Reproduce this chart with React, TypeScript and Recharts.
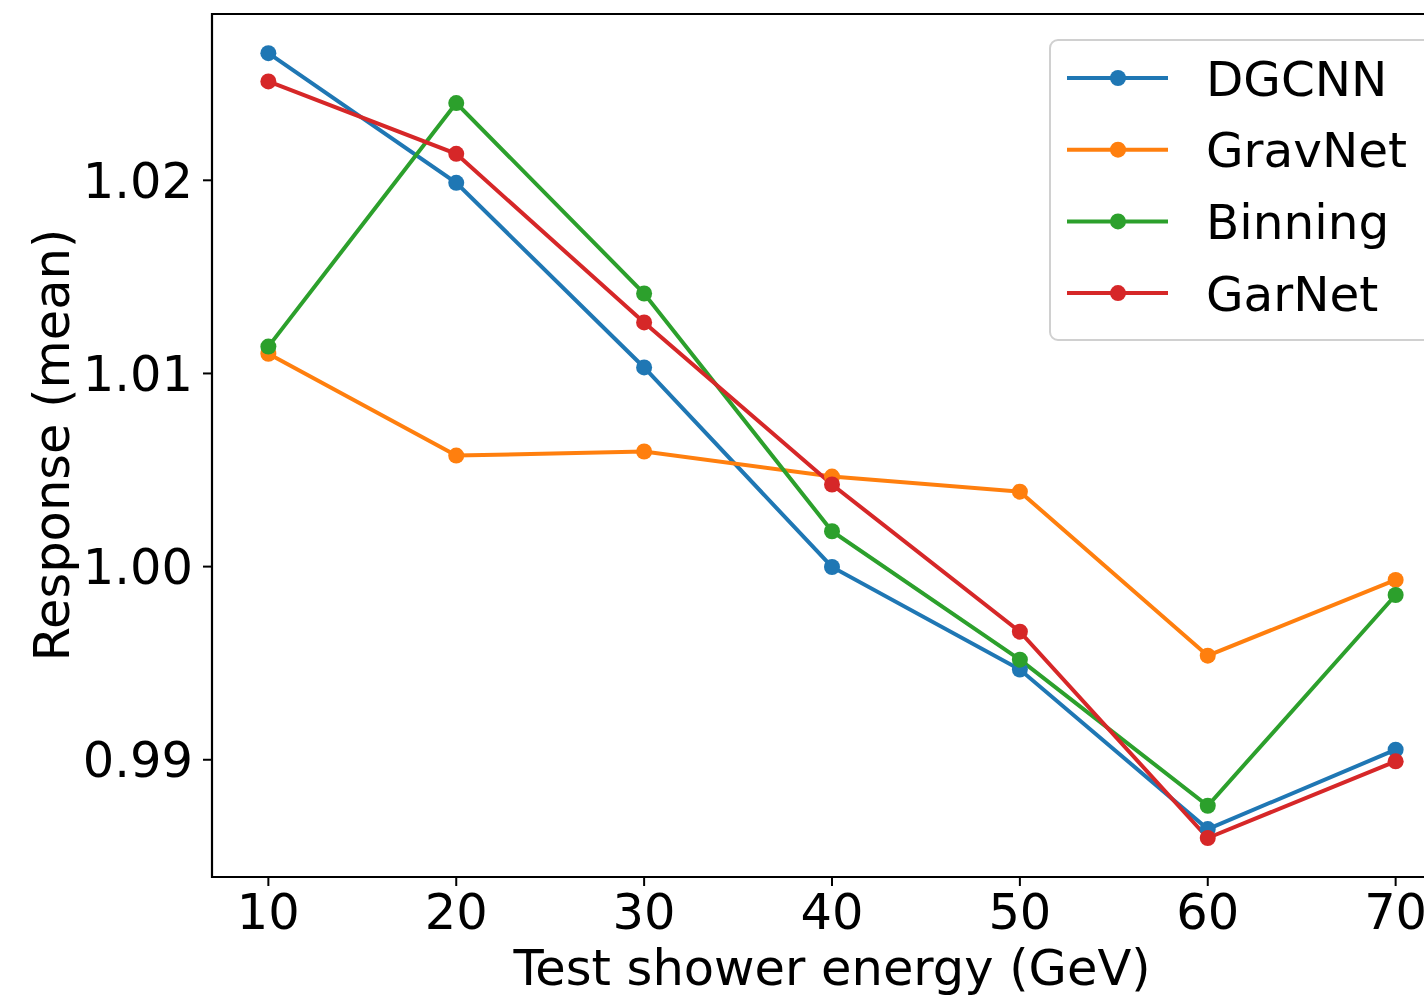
import React from 'react';
import { LineChart, XAxis, YAxis, Line, Legend, ReferenceArea } from 'recharts';

const energies = [10, 20, 30, 40, 50, 60, 70];
const dgcnn = [1.02658, 1.01987, 1.01031, 0.99998, 0.99467, 0.98641, 0.99052];
const gravnet = [1.01102, 1.00575, 1.00596, 1.00466, 1.00388, 0.99539, 0.99931];
const binning = [1.01139, 1.024, 1.01414, 1.00183, 0.99518, 0.98762, 0.99853];
const garnet = [1.02512, 1.02137, 1.01264, 1.00425, 0.99663, 0.98595, 0.98992];
const xTicks = [10, 20, 30, 40, 50, 60, 70];
const yTicks = [0.99, 1.0, 1.01, 1.02];

const FONT = '"DejaVu Sans", sans-serif';
const FS = 49.5;

const series = [
    { key: 'DGCNN', values: dgcnn, color: '#1f77b4' },
    { key: 'GravNet', values: gravnet, color: '#ff7f0e' },
    { key: 'Binning', values: binning, color: '#2ca02c' },
    { key: 'GarNet', values: garnet, color: '#d62728' },
];

const data = energies.map((e, i) => {
    const row: Record<string, number> = { x: e };
    series.forEach((s) => { row[s.key] = s.values[i]; });
    return row;
});

// keep the plotting order (recharts sorts legend items by name)
const LegendBox = () => (
    <svg width={389} height={302} style={{ display: 'block' }}>
        <rect x={1} y={1} width={400} height={300} rx={8} ry={8} fill="#fff" fillOpacity={0.8} stroke="#d0d0d0" strokeWidth={2} />
        {series.map((s, i) => {
            const cy = 39 + i * 71.7;
            return (
                <g key={s.key}>
                    <line x1={18} x2={119} y1={cy} y2={cy} stroke={s.color} strokeWidth={4} />
                    <circle cx={69} cy={cy} r={8} fill={s.color} />
                    <text x={157} y={cy + 17.5} fontFamily={FONT} fontSize={48.5} fill="#000">{s.key}</text>
                </g>
            );
        })}
    </svg>
);

const YLabel = () => (
    <text x={69} y={445} transform="rotate(-90 69 445)" textAnchor="middle" fontFamily={FONT} fontSize={FS} fill="#000">
        Response (mean)
    </text>
);

const App: React.FC = () => {
    const tickStyle = { fontFamily: FONT, fontSize: FS, fill: '#000' };
    return (
        <div style={{ position: 'absolute', left: 0, top: 0, width: 1424, height: 997, overflow: 'hidden', background: '#fff' }}>
            <LineChart width={1452} height={997} data={data} margin={{ top: 14, right: 0, left: 0, bottom: 0 }}>
                <XAxis
                    dataKey="x"
                    type="number"
                    domain={[7, 73]}
                    ticks={xTicks}
                    allowDataOverflow
                    height={120}
                    tickSize={9}
                    tickMargin={8}
                    tick={tickStyle}
                    axisLine={false}
                    tickLine={{ stroke: '#000', strokeWidth: 2 }}
                    label={{ value: 'Test shower energy (GeV)', position: 'insideBottom', offset: 12, style: { fontFamily: FONT, fontSize: FS, fill: '#000' } }}
                />
                <YAxis
                    type="number"
                    domain={[0.98393, 1.02861]}
                    ticks={yTicks}
                    allowDataOverflow
                    width={212}
                    tickSize={9}
                    tickMargin={10}
                    tick={tickStyle}
                    tickFormatter={(v: number) => v.toFixed(2)}
                    axisLine={false}
                    tickLine={{ stroke: '#000', strokeWidth: 2 }}
                    label={{ content: YLabel }}
                />
                <ReferenceArea x1={7} x2={73} y1={0.98393} y2={1.02861} fill="none" stroke="#000" strokeWidth={2.2} ifOverflow="visible" />
                {series.map((s) => (
                    <Line
                        key={s.key}
                        dataKey={s.key}
                        name={s.key}
                        type="linear"
                        stroke={s.color}
                        strokeWidth={4}
                        dot={{ r: 8, fill: s.color, stroke: s.color, strokeWidth: 0 }}
                        activeDot={false}
                        isAnimationActive={false}
                    />
                ))}
                <Legend
                    layout="vertical"
                    align="center"
                    verticalAlign="middle"
                    content={LegendBox}
                    wrapperStyle={{ position: 'absolute', left: 1049, top: 39, width: 389, height: 302 }}
                />
            </LineChart>
        </div>
    );
};

export default App;
